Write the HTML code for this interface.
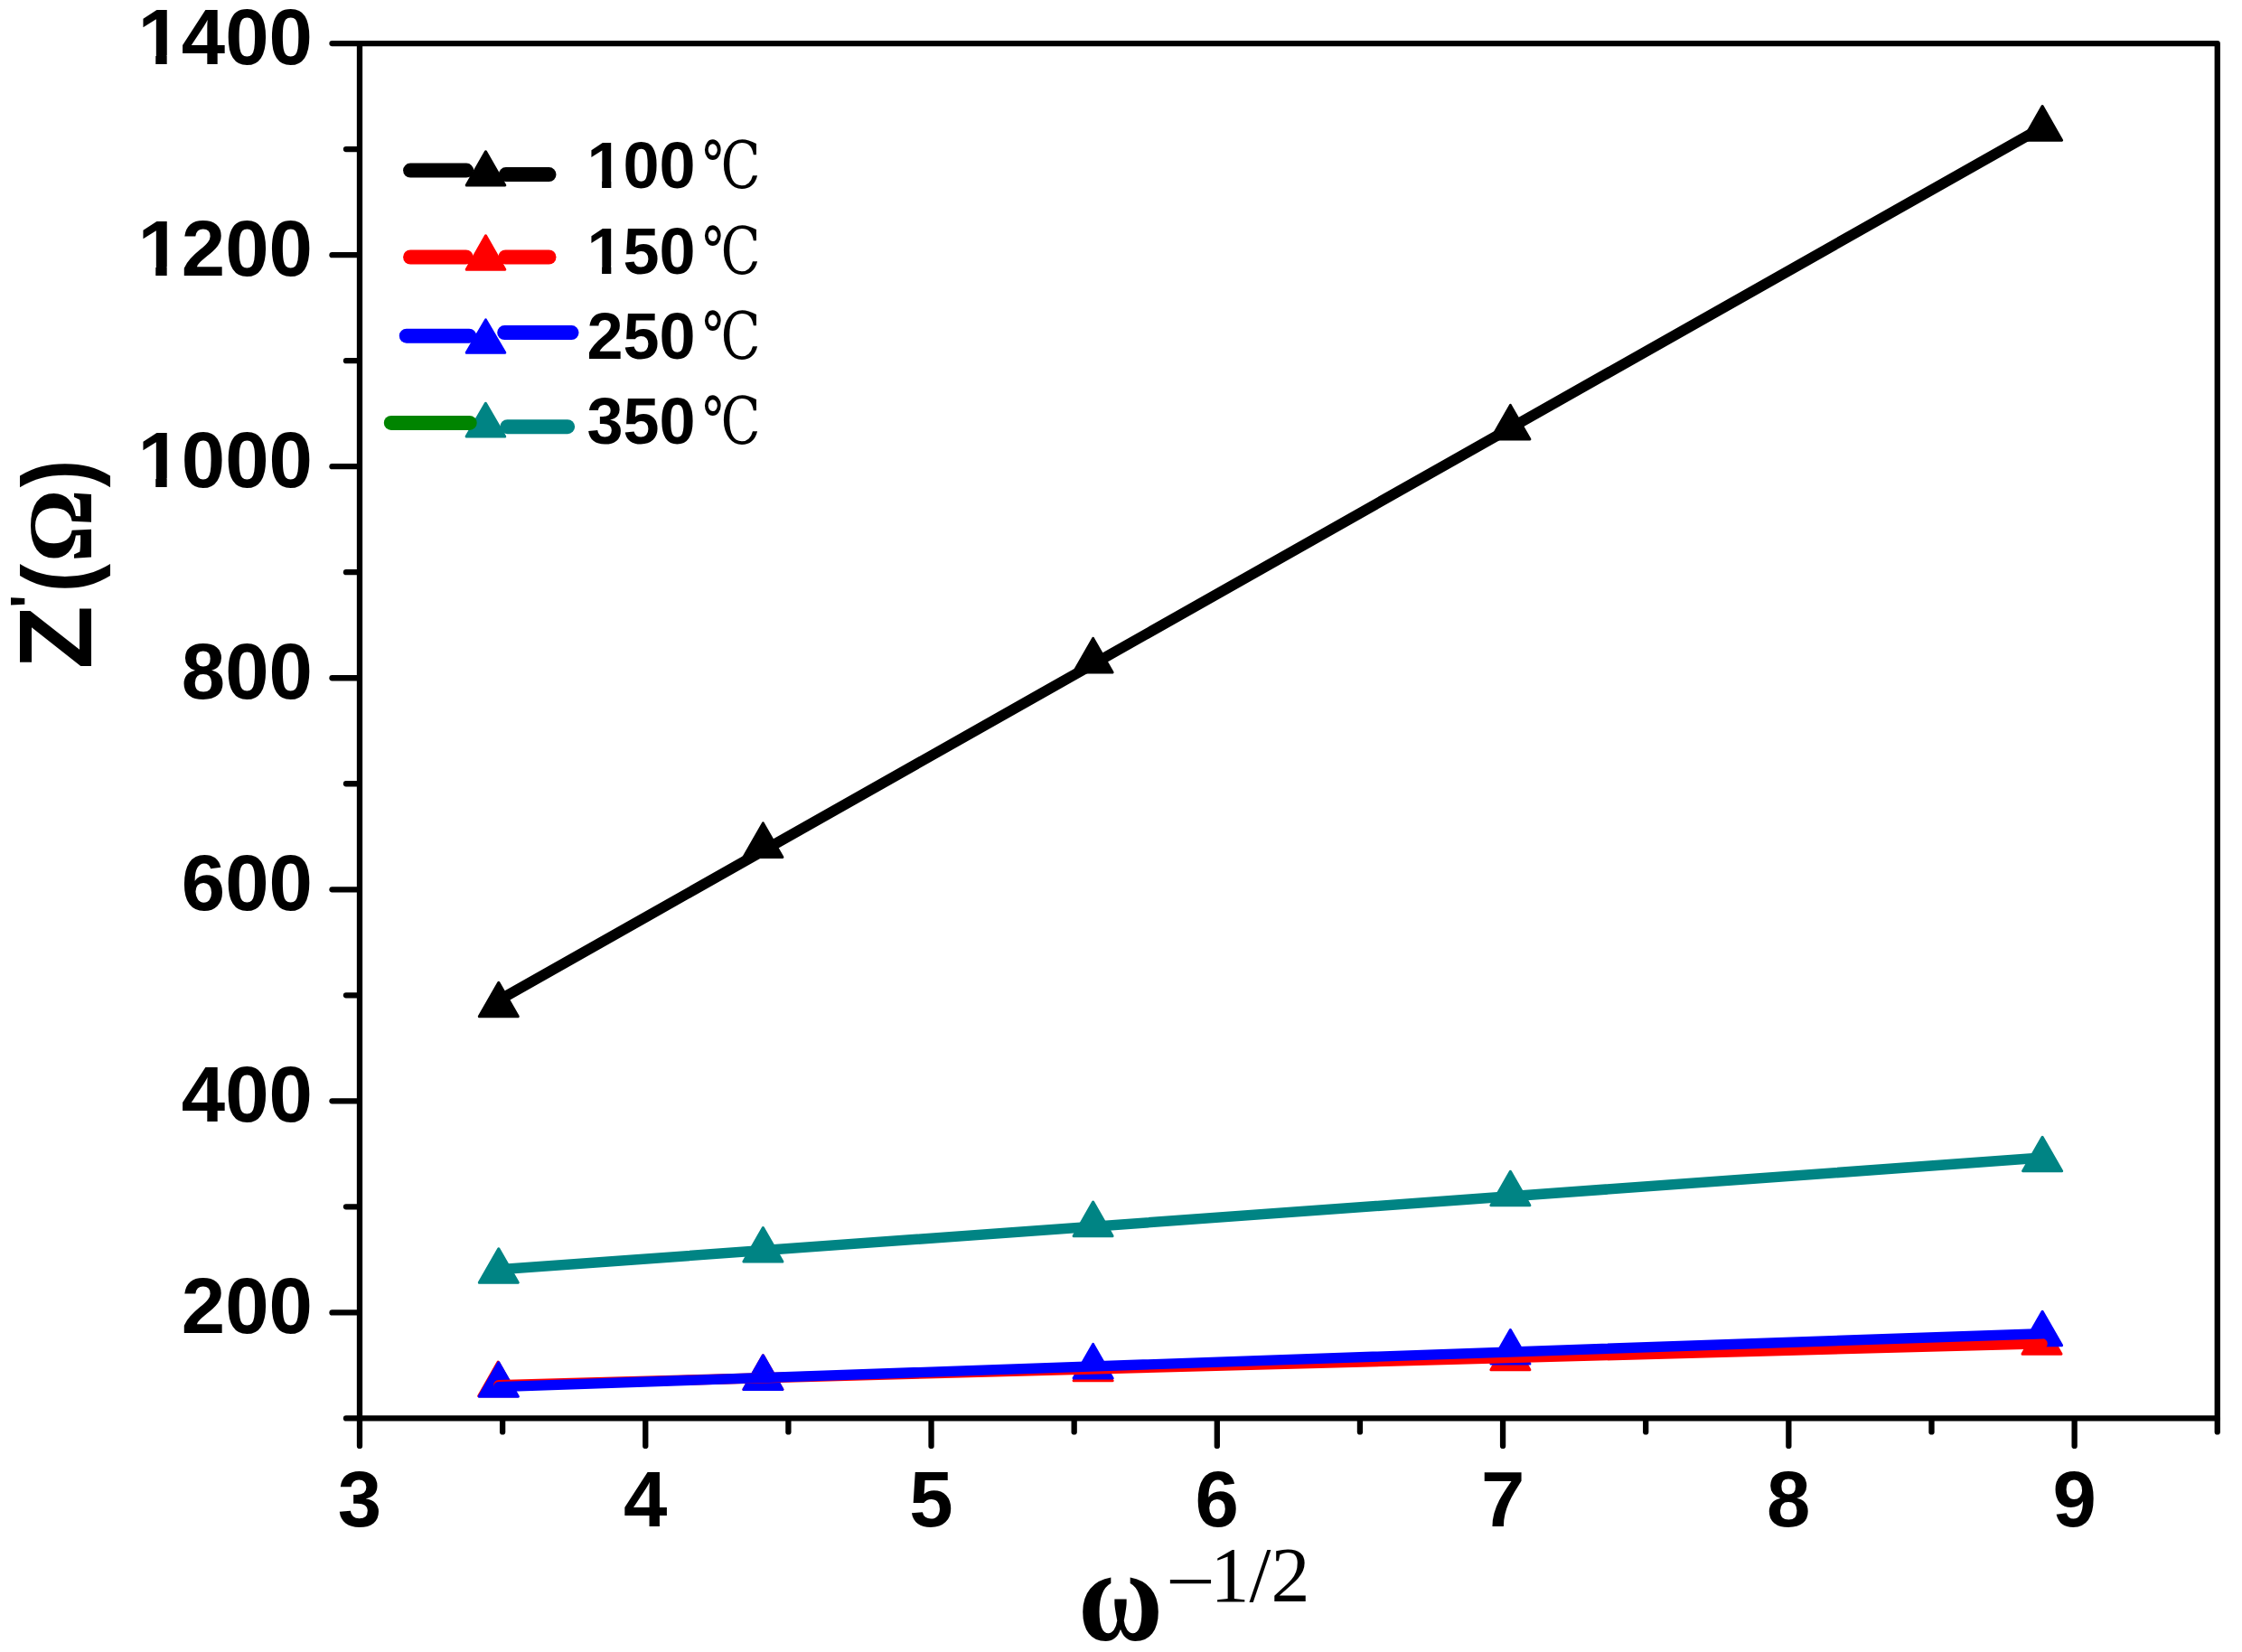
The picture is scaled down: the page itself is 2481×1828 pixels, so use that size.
<!DOCTYPE html>
<html lang="en"><head><meta charset="utf-8"><title>Z' vs ω^-1/2</title>
<style>html,body{margin:0;padding:0;background:#fff}svg{display:block}text{font-family:"Liberation Sans",sans-serif;font-weight:bold;fill:#000}.tk{font-size:87px}.lg{font-size:72px}.dj{font-family:"DejaVu Serif","Noto Serif CJK SC",serif;font-weight:400}.sf{font-family:"Liberation Serif",serif}</style></head><body>
<svg width="2481" height="1828" viewBox="0 0 2481 1828">
<rect width="2481" height="1828" fill="#fff"/>
<g id="series">
<line x1="551.8" y1="1106.9" x2="2260.1" y2="140.8" stroke="#000000" stroke-width="11.7" stroke-linecap="round"/>
<polygon points="551.8,1087.2 573.3,1124.8 530.3,1124.8" fill="#000000" stroke="#000000" stroke-width="3.0" stroke-linejoin="round"/>
<polygon points="844.4,910.9 865.9,948.5 822.9,948.5" fill="#000000" stroke="#000000" stroke-width="3.0" stroke-linejoin="round"/>
<polygon points="1209.6,706.4 1231.1,744.0 1188.1,744.0" fill="#000000" stroke="#000000" stroke-width="3.0" stroke-linejoin="round"/>
<polygon points="1671.4,448.4 1692.9,486.0 1649.9,486.0" fill="#000000" stroke="#000000" stroke-width="3.0" stroke-linejoin="round"/>
<polygon points="2260.1,117.6 2281.6,155.2 2238.6,155.2" fill="#000000" stroke="#000000" stroke-width="3.0" stroke-linejoin="round"/>
<line x1="551.8" y1="1404.8" x2="2260.1" y2="1281.1" stroke="#008484" stroke-width="11.5" stroke-linecap="round"/>
<polygon points="551.8,1381.7 573.3,1419.3 530.3,1419.3" fill="#008484" stroke="#008484" stroke-width="3.0" stroke-linejoin="round"/>
<polygon points="844.4,1358.5 865.9,1396.1 822.9,1396.1" fill="#008484" stroke="#008484" stroke-width="3.0" stroke-linejoin="round"/>
<polygon points="1209.6,1330.1 1231.1,1367.7 1188.1,1367.7" fill="#008484" stroke="#008484" stroke-width="3.0" stroke-linejoin="round"/>
<polygon points="1671.4,1296.2 1692.9,1333.8 1649.9,1333.8" fill="#008484" stroke="#008484" stroke-width="3.0" stroke-linejoin="round"/>
<polygon points="2260.1,1258.2 2281.6,1295.8 2238.6,1295.8" fill="#008484" stroke="#008484" stroke-width="3.0" stroke-linejoin="round"/>
<polygon points="551.2,1507.1 572.7,1544.7 529.7,1544.7" fill="#ff0000" stroke="#ff0000" stroke-width="3.0" stroke-linejoin="round"/>
<polygon points="844.4,1499.8 865.9,1537.4 822.9,1537.4" fill="#ff0000" stroke="#ff0000" stroke-width="3.0" stroke-linejoin="round"/>
<polygon points="1209.6,1490.2 1231.1,1527.8 1188.1,1527.8" fill="#ff0000" stroke="#ff0000" stroke-width="3.0" stroke-linejoin="round"/>
<polygon points="1671.4,1478.1 1692.9,1515.7 1649.9,1515.7" fill="#ff0000" stroke="#ff0000" stroke-width="3.0" stroke-linejoin="round"/>
<polygon points="2259.5,1460.6 2281.0,1498.2 2238.0,1498.2" fill="#ff0000" stroke="#ff0000" stroke-width="3.0" stroke-linejoin="round"/>
<polygon points="551.8,1507.7 573.3,1545.3 530.3,1545.3" fill="#0000ff" stroke="#0000ff" stroke-width="3.0" stroke-linejoin="round"/>
<polygon points="844.4,1499.8 865.9,1537.4 822.9,1537.4" fill="#0000ff" stroke="#0000ff" stroke-width="3.0" stroke-linejoin="round"/>
<polygon points="1209.6,1487.4 1231.1,1525.0 1188.1,1525.0" fill="#0000ff" stroke="#0000ff" stroke-width="3.0" stroke-linejoin="round"/>
<polygon points="1671.4,1471.5 1692.9,1509.1 1649.9,1509.1" fill="#0000ff" stroke="#0000ff" stroke-width="3.0" stroke-linejoin="round"/>
<polygon points="2260.1,1451.2 2281.6,1488.8 2238.6,1488.8" fill="#0000ff" stroke="#0000ff" stroke-width="3.0" stroke-linejoin="round"/>
<line x1="551.8" y1="1532.6" x2="2260.1" y2="1486.8" stroke="#ff0000" stroke-width="11.4" stroke-linecap="round"/>
<line x1="551.8" y1="1534.6" x2="2260.1" y2="1475.7" stroke="#0000ff" stroke-width="11.4" stroke-linecap="round"/>
</g>
<g id="axes" stroke="#000" stroke-width="6.3" stroke-linecap="round" fill="none">
<path d="M398.0,48.1 H2453.75 V1569.4 H398.0 Z" stroke-linejoin="round"/>
<line x1="397.0" y1="1452.38" x2="367.5" y2="1452.38"/>
<line x1="397.0" y1="1218.33" x2="367.5" y2="1218.33"/>
<line x1="397.0" y1="984.28" x2="367.5" y2="984.28"/>
<line x1="397.0" y1="750.24" x2="367.5" y2="750.24"/>
<line x1="397.0" y1="516.19" x2="367.5" y2="516.19"/>
<line x1="397.0" y1="282.15" x2="367.5" y2="282.15"/>
<line x1="397.0" y1="48.10" x2="367.5" y2="48.10"/>
<line x1="397.0" y1="1569.40" x2="383.0" y2="1569.40"/>
<line x1="397.0" y1="1335.35" x2="383.0" y2="1335.35"/>
<line x1="397.0" y1="1101.31" x2="383.0" y2="1101.31"/>
<line x1="397.0" y1="867.26" x2="383.0" y2="867.26"/>
<line x1="397.0" y1="633.22" x2="383.0" y2="633.22"/>
<line x1="397.0" y1="399.17" x2="383.0" y2="399.17"/>
<line x1="397.0" y1="165.12" x2="383.0" y2="165.12"/>
<line x1="398.00" y1="1570.4" x2="398.00" y2="1599.9"/>
<line x1="714.27" y1="1570.4" x2="714.27" y2="1599.9"/>
<line x1="1030.54" y1="1570.4" x2="1030.54" y2="1599.9"/>
<line x1="1346.81" y1="1570.4" x2="1346.81" y2="1599.9"/>
<line x1="1663.08" y1="1570.4" x2="1663.08" y2="1599.9"/>
<line x1="1979.35" y1="1570.4" x2="1979.35" y2="1599.9"/>
<line x1="2295.62" y1="1570.4" x2="2295.62" y2="1599.9"/>
<line x1="556.13" y1="1570.4" x2="556.13" y2="1584.4"/>
<line x1="872.40" y1="1570.4" x2="872.40" y2="1584.4"/>
<line x1="1188.67" y1="1570.4" x2="1188.67" y2="1584.4"/>
<line x1="1504.94" y1="1570.4" x2="1504.94" y2="1584.4"/>
<line x1="1821.21" y1="1570.4" x2="1821.21" y2="1584.4"/>
<line x1="2137.48" y1="1570.4" x2="2137.48" y2="1584.4"/>
<line x1="2453.75" y1="1570.4" x2="2453.75" y2="1584.4"/>
</g>
<g id="ticklabels" class="tk">
<text x="346" y="1475.4" text-anchor="end">200</text>
<text x="346" y="1241.3" text-anchor="end">400</text>
<text x="346" y="1007.3" text-anchor="end">600</text>
<text x="346" y="773.2" text-anchor="end">800</text>
<text x="346" y="539.2" text-anchor="end">1000</text>
<text x="346" y="305.1" text-anchor="end">1200</text>
<text x="346" y="71.1" text-anchor="end">1400</text>
<text x="398.0" y="1689" text-anchor="middle">3</text>
<text x="714.3" y="1689" text-anchor="middle">4</text>
<text x="1030.5" y="1689" text-anchor="middle">5</text>
<text x="1346.8" y="1689" text-anchor="middle">6</text>
<text x="1663.1" y="1689" text-anchor="middle">7</text>
<text x="1979.3" y="1689" text-anchor="middle">8</text>
<text x="2295.6" y="1689" text-anchor="middle">9</text>
<rect x="154.46" y="529.29" width="17.80" height="11.5" fill="#fff"/>
<rect x="184.66" y="529.29" width="15.30" height="11.5" fill="#fff"/>
<rect x="154.46" y="295.25" width="17.80" height="11.5" fill="#fff"/>
<rect x="184.66" y="295.25" width="15.30" height="11.5" fill="#fff"/>
<rect x="154.46" y="61.20" width="17.80" height="11.5" fill="#fff"/>
<rect x="184.66" y="61.20" width="15.30" height="11.5" fill="#fff"/>
</g>
<g id="legend">
<line x1="454.1" y1="188.6" x2="516.1" y2="188.6" stroke="#000" stroke-width="16" stroke-linecap="round"/>
<line x1="559.8" y1="193.1" x2="607.5" y2="193.1" stroke="#000" stroke-width="16" stroke-linecap="round"/>
<polygon points="537.5,167.7 558.8,204.9 516.2,204.9" fill="#000" stroke="#000" stroke-width="3.0" stroke-linejoin="round"/>
<line x1="454.1" y1="284.5" x2="515.7" y2="284.5" stroke="#f00" stroke-width="16" stroke-linecap="round"/>
<line x1="559.3" y1="284.5" x2="607.5" y2="284.5" stroke="#f00" stroke-width="16" stroke-linecap="round"/>
<polygon points="537.5,260.7 558.8,298.3 516.2,298.3" fill="#f00" stroke="#f00" stroke-width="3.0" stroke-linejoin="round"/>
<line x1="449.8" y1="371.7" x2="519.2" y2="371.7" stroke="#00f" stroke-width="16" stroke-linecap="round"/>
<polygon points="537.5,353.9 558.8,390.3 516.2,390.3" fill="#00f" stroke="#00f" stroke-width="3.0" stroke-linejoin="round"/>
<line x1="558.2" y1="368.1" x2="632.5" y2="368.1" stroke="#00f" stroke-width="16" stroke-linecap="round"/>
<polygon points="537.4,446.3 558.7,483.1 516.1,483.1" fill="#008484" stroke="#008484" stroke-width="3.0" stroke-linejoin="round"/>
<line x1="432.8" y1="467.9" x2="519.7" y2="467.9" stroke="#008400" stroke-width="16" stroke-linecap="round"/>
<line x1="561.4" y1="472.2" x2="628.1" y2="472.2" stroke="#008484" stroke-width="16" stroke-linecap="round"/>
<text class="lg" x="649.4" y="208.2">100</text>
<rect x="651.40" y="199.90" width="14.7" height="10" fill="#fff"/>
<rect x="676.30" y="199.90" width="12.6" height="10" fill="#fff"/>
<text class="dj" font-size="72" transform="translate(777.3,208.2) scale(0.796,1)">℃</text>
<text class="lg" x="649.4" y="302.5">150</text>
<rect x="651.40" y="294.20" width="14.7" height="10" fill="#fff"/>
<rect x="676.30" y="294.20" width="12.6" height="10" fill="#fff"/>
<text class="dj" font-size="72" transform="translate(777.3,302.5) scale(0.796,1)">℃</text>
<text class="lg" x="649.4" y="396.5">250</text>
<text class="dj" font-size="72" transform="translate(777.3,396.5) scale(0.796,1)">℃</text>
<text class="lg" x="649.4" y="490.8">350</text>
<text class="dj" font-size="72" transform="translate(777.3,490.8) scale(0.796,1)">℃</text>
</g>
<g id="titles">
<text transform="translate(100.8,740.6) rotate(-90)" font-size="115">Z</text>
<text transform="translate(54.3,672.7) rotate(-90)" font-size="62">'</text>
<text transform="translate(100,655.6) rotate(-90) scale(0.88,1)" font-size="108">(</text>
<text class="sf" transform="translate(101.8,622.3) rotate(-90)" font-size="101">Ω</text>
<text transform="translate(100,539.3) rotate(-90) scale(0.85,1)" font-size="108">)</text>
<text class="sf" transform="translate(1193,1814.6) scale(0.88,1)" font-size="146">ω</text>
<text class="sf" transform="translate(1290.3,1778.6) scale(1.13,1)" font-size="86" style="font-weight:400">−</text>
<text class="sf" x="1339.5" y="1772.1" font-size="86" style="font-weight:400">1/2</text>
</g>
</svg></body></html>
